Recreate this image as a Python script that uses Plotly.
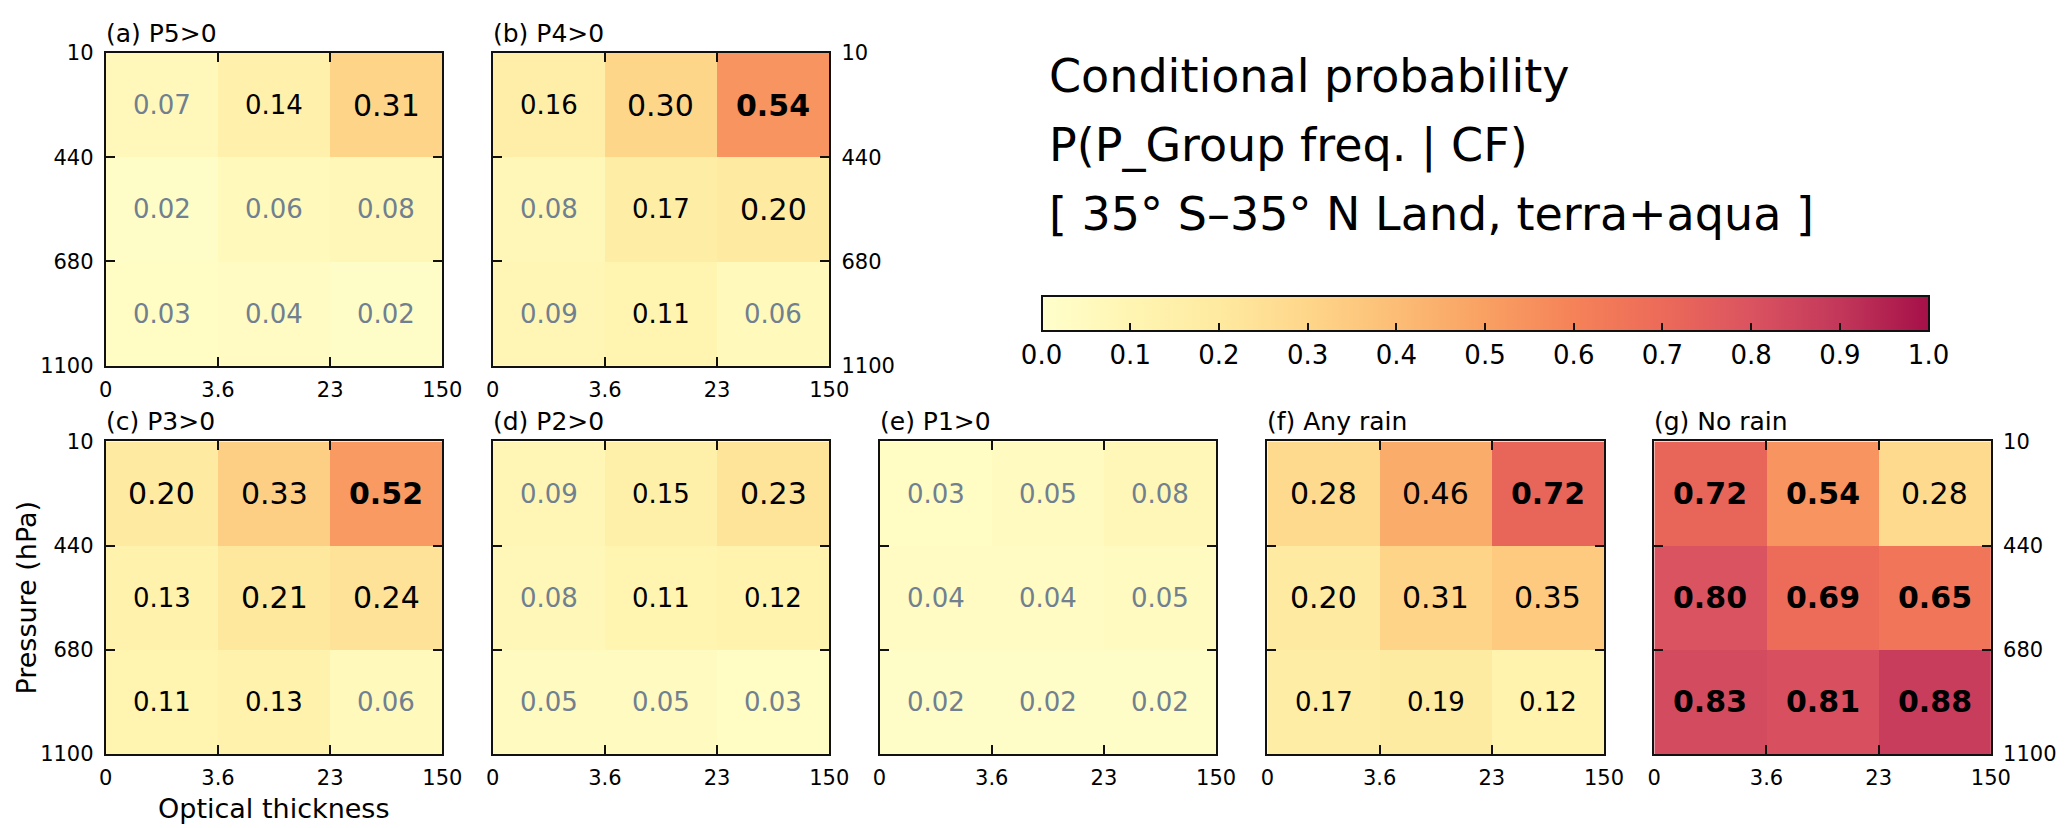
"""Conditional probability of precipitation group per cloud regime: 7 small heatmaps + shared colorbar."""
import plotly.graph_objects as go

W, H = 2067, 828
FONT = "DejaVu Sans"

# cloud-top pressure rows (top to bottom) x optical thickness columns (left to right)
tau_ticks = ["0", "3.6", "23", "150"]
p_ticks = ["10", "440", "680", "1100"]

panel_titles = ["(a) P5>0", "(b) P4>0", "(c) P3>0", "(d) P2>0", "(e) P1>0", "(f) Any rain", "(g) No rain"]

p5 = [[0.07, 0.14, 0.31], [0.02, 0.06, 0.08], [0.03, 0.04, 0.02]]
p4 = [[0.16, 0.30, 0.54], [0.08, 0.17, 0.20], [0.09, 0.11, 0.06]]
p3 = [[0.20, 0.33, 0.52], [0.13, 0.21, 0.24], [0.11, 0.13, 0.06]]
p2 = [[0.09, 0.15, 0.23], [0.08, 0.11, 0.12], [0.05, 0.05, 0.03]]
p1 = [[0.03, 0.05, 0.08], [0.04, 0.04, 0.05], [0.02, 0.02, 0.02]]
any_rain = [[0.28, 0.46, 0.72], [0.20, 0.31, 0.35], [0.17, 0.19, 0.12]]
no_rain = [[0.72, 0.54, 0.28], [0.80, 0.69, 0.65], [0.83, 0.81, 0.88]]
panels = [p5, p4, p3, p2, p1, any_rain, no_rain]

cbar_ticks = [0.0, 0.1, 0.2, 0.3, 0.4, 0.5, 0.6, 0.7, 0.8, 0.9, 1.0]

COLORSCALE = [
    [0.0, "#ffffcc"], [0.1, "#fff5b2"], [0.2, "#feeaa0"], [0.3, "#fed68a"],
    [0.4, "#fcbd76"], [0.5, "#f9a063"], [0.6, "#f58258"], [0.7, "#ec6a59"],
    [0.8, "#da5360"], [0.9, "#c2375a"], [1.0, "#a51048"],
]

# panel placement in pixels: (left, top)
PW, PH = 341, 322
lefts = [92, 484, 92, 484, 876, 1269, 1661]
tops = [34, 34, 434, 434, 434, 434, 434]
ylabel_side = ["left", "right", "left", None, None, None, "right"]


def px(x):
    return x / W


def py(y):
    return 1 - y / H


def cell_style(v):
    if v < 0.1:
        return dict(color="#708090", size=26)
    if v < 0.2:
        return dict(color="black", size=26)
    if v < 0.5:
        return dict(color="black", size=30)
    return dict(color="black", size=30, weight="bold")


fig = go.Figure()
annotations = []
layout = {}

for k, (z, title) in enumerate(zip(panels, panel_titles), start=1):
    sfx = "" if k == 1 else str(k)
    fig.add_trace(
        go.Heatmap(
            z=z, x=[0, 1, 2], y=[0, 1, 2],
            zmin=0, zmax=1, colorscale=COLORSCALE,
            xaxis=f"x{sfx}", yaxis=f"y{sfx}",
            showscale=(k == 1),
            colorbar=dict(
                orientation="h",
                x=px((1046 + 1933) / 2), xanchor="center",
                y=py(284), yanchor="top",
                len=887, lenmode="pixels",
                thickness=35, thicknessmode="pixels",
                xpad=0, ypad=0,
                outlinewidth=2, outlinecolor="#111",
                tickvals=cbar_ticks, tickformat=".1f",
                ticks="inside", ticklen=9, tickwidth=2, tickcolor="#111",
                tickfont=dict(size=26, color="black", family=FONT),
            ),
            hovertemplate="%{z:.2f}<extra></extra>",
        )
    )
    l, t = lefts[k - 1], tops[k - 1]
    side = ylabel_side[k - 1]
    axis_common = dict(
        showline=True, linewidth=2, linecolor="#111", mirror="ticks",
        ticks="inside", ticklen=9, tickwidth=1.5, tickcolor="#111",
        showgrid=False, zeroline=False, fixedrange=True,
        tickfont=dict(size=21, color="black", family=FONT),
    )
    layout[f"xaxis{sfx}"] = dict(
        axis_common, domain=[px(l), px(l + PW)], anchor=f"y{sfx}",
        range=[-0.5, 2.5], tickvals=[-0.5, 0.5, 1.5, 2.5], ticktext=tau_ticks,
        ticklabelstandoff=4,
    )
    layout[f"yaxis{sfx}"] = dict(
        axis_common, domain=[py(t + PH), py(t)], anchor=f"x{sfx}",
        range=[2.5, -0.5], tickvals=[-0.5, 0.5, 1.5, 2.5], ticktext=p_ticks,
        side=side or "left", showticklabels=side is not None,
        ticklabelstandoff=6,
    )
    annotations.append(dict(
        text=title, xref="paper", yref="paper", x=px(l - 2), y=py(t),
        xanchor="left", yanchor="bottom", yshift=3, showarrow=False,
        font=dict(size=25, color="black", family=FONT),
    ))
    for r, row in enumerate(z):
        for c, v in enumerate(row):
            annotations.append(dict(
                text=f"{v:.2f}", xref=f"x{sfx}", yref=f"y{sfx}", x=c, y=r,
                showarrow=False, font=dict(family=FONT, **cell_style(v)),
            ))

# axis titles (only on panel c)
annotations.append(dict(
    text="Optical thickness", xref="paper", yref="paper",
    x=px(92 + PW / 2), y=py(812), xanchor="center", yanchor="middle",
    showarrow=False, font=dict(size=27, color="black", family=FONT),
))
annotations.append(dict(
    text="Pressure (hPa)", xref="paper", yref="paper",
    x=px(12), y=py(434 + PH / 2), xanchor="center", yanchor="middle",
    textangle=-90, showarrow=False, font=dict(size=27, color="black", family=FONT),
))

# header text block
for txt, ymid in [
    ("Conditional probability", 58),
    ("P(P_Group freq. | CF)", 129),
    ("[ 35° S–35° N Land, terra+aqua ]", 200),
]:
    annotations.append(dict(
        text=txt, xref="paper", yref="paper", x=px(1046), y=py(ymid),
        xanchor="left", yanchor="middle", showarrow=False,
        font=dict(size=46, color="black", family=FONT),
    ))

fig.update_layout(
    width=W, height=H,
    margin=dict(l=0, r=0, t=0, b=0),
    paper_bgcolor="white", plot_bgcolor="white",
    font=dict(family=FONT, color="black"),
    annotations=annotations,
    **layout,
)

fig.write_html("out.html")
